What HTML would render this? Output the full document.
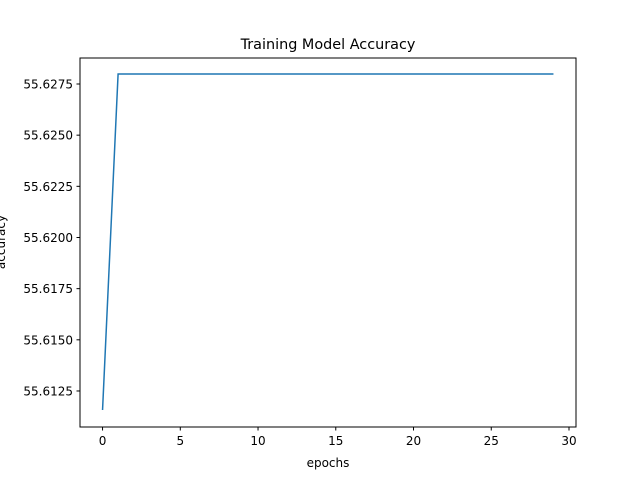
<!DOCTYPE html>
<html><head><meta charset="utf-8">
<style>
body{margin:0;background:#fff;}
svg text{font-family:"DejaVu Sans","Liberation Sans",sans-serif;fill:#000;}
</style></head>
<body>
<svg id="chart" width="640" height="480" xmlns="http://www.w3.org/2000/svg">
<rect width="640" height="480" fill="#fff"/>
<text x="328" y="49" font-size="14.4" text-anchor="middle">Training Model Accuracy</text>
<g id="ticks"></g>
<polyline id="line" fill="none" stroke="#1f77b4" stroke-width="1.5"/>
<rect x="80" y="58" width="496" height="369" fill="none" stroke="#000" stroke-width="1"/>
<text x="328" y="467" font-size="12" text-anchor="middle">epochs</text>
<text x="0" y="0" font-size="12" text-anchor="middle" transform="translate(5,242) rotate(-90)">accuracy</text>
</svg>
<script>
const epochs=[0,1,2,3,4,5,6,7,8,9,10,11,12,13,14,15,16,17,18,19,20,21,22,23,24,25,26,27,28,29];
const accuracy=[55.61157,55.62799,55.62799,55.62799,55.62799,55.62799,55.62799,55.62799,55.62799,55.62799,55.62799,55.62799,55.62799,55.62799,55.62799,55.62799,55.62799,55.62799,55.62799,55.62799,55.62799,55.62799,55.62799,55.62799,55.62799,55.62799,55.62799,55.62799,55.62799,55.62799];
const xTicks=[0,5,10,15,20,25,30];
const yTicks=[55.6125,55.6150,55.6175,55.6200,55.6225,55.6250,55.6275];
const X0=80,X1=576,Y0=58,Y1=427;
const xMin=-1.45,xMax=30.45,yMin=55.61074,yMax=55.62877;
const sx=v=>X0+(v-xMin)/(xMax-xMin)*(X1-X0);
const sy=v=>Y1-(v-yMin)/(yMax-yMin)*(Y1-Y0);
const NS="http://www.w3.org/2000/svg";
const g=document.getElementById('ticks');
xTicks.forEach(t=>{
 const l=document.createElementNS(NS,'line');
 
 
 l.setAttribute('x1',sx(t));l.setAttribute('x2',sx(t));l.setAttribute('y1',Y1);l.setAttribute('y2',Y1+3.5);l.setAttribute('stroke','#000');
 g.appendChild(l);
 const tx=document.createElementNS(NS,'text');
 
 
 tx.setAttribute('x',sx(t));tx.setAttribute('y',Y1+18);tx.setAttribute('font-size','12');tx.setAttribute('text-anchor','middle');
 tx.textContent=t;g.appendChild(tx);
});
yTicks.forEach(t=>{
 const l=document.createElementNS(NS,'line');
 
 
 l.setAttribute('x1',X0-3.5);l.setAttribute('x2',X0);l.setAttribute('y1',sy(t));l.setAttribute('y2',sy(t));l.setAttribute('stroke','#000');
 g.appendChild(l);
 const tx=document.createElementNS(NS,'text');
 
 
 tx.setAttribute('x',X0-7);tx.setAttribute('y',sy(t)+4.5);tx.setAttribute('font-size','12');tx.setAttribute('text-anchor','end');
 tx.textContent=t.toFixed(4);g.appendChild(tx);
});
document.getElementById('line').setAttribute('points',epochs.map((e,i)=>sx(e)+','+sy(accuracy[i])).join(' '));
</script>
</body></html>
